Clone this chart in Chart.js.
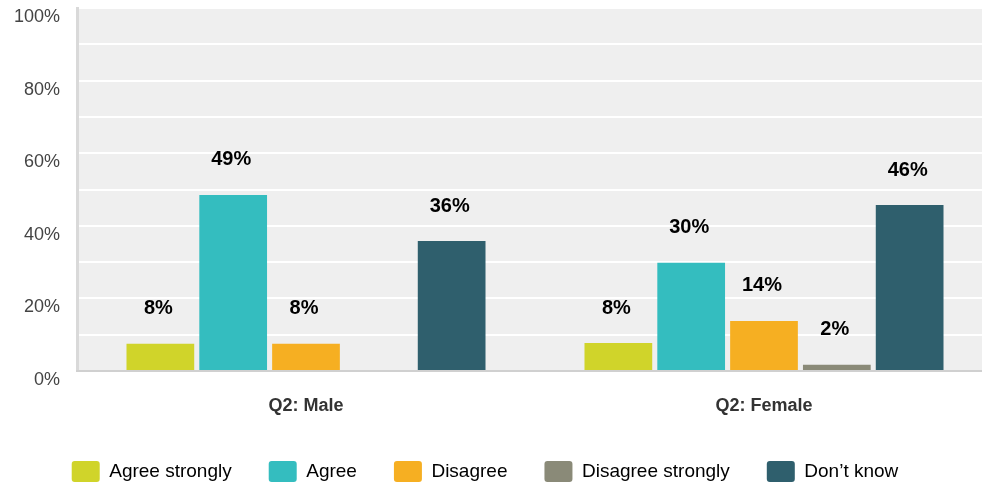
<!DOCTYPE html>
<html>
<head>
<meta charset="utf-8">
<script src="https://cdn.jsdelivr.net/npm/chart.js@4/dist/chart.umd.min.js"></script>
<style>
  html, body { margin: 0; padding: 0; background: #fff; overflow: hidden; }
  #wrap { width: 982px; height: 484px; overflow: hidden; }
  #chart { display: block; }
</style>
</head>
<body>
<div id="wrap"><canvas id="chart" width="994" height="484"></canvas></div>
<script>
// ====== Data ======
const categories = ['Q2: Male', 'Q2: Female'];
const seriesNames = ['Agree strongly', 'Agree', 'Disagree', 'Disagree strongly', 'Don\u2019t know'];
const agreeStrongly = [7.5, 7.7];
const agree = [48.5, 29.8];
const disagree = [7.5, 13.8];
const disagreeStrongly = [null, 1.7];
const dontKnow = [35.8, 45.7];
const yTicks = [0, 20, 40, 60, 80, 100];

// ===== Colors =====
const seriesColors = ['#D0D42A', '#34BDBF', '#F6AF22', '#8A8A78', '#2F5F6D'];
const FONT = '"Liberation Sans", Arial, Helvetica, sans-serif';

// gray plot background
const plotBg = {
    id: 'plotBg',
    beforeDraw(chart) {
        const { ctx, chartArea: a } = chart;
        ctx.save();
        ctx.fillStyle = '#EFEFEF';
        ctx.fillRect(a.left, a.top - 1, a.right - a.left, a.bottom - a.top + 1);
        ctx.restore();
    }
};

// value labels above the bars
const valueLabels = {
    id: 'valueLabels',
    afterDatasetsDraw(chart) {
        const ctx = chart.ctx;
        ctx.save();
        ctx.font = 'bold 20px ' + FONT;
        ctx.fillStyle = '#000';
        ctx.textAlign = 'center';
        ctx.textBaseline = 'middle';
        chart.data.datasets.forEach((ds, i) => {
            chart.getDatasetMeta(i).data.forEach((bar, j) => {
                const v = ds.data[j];
                if (v === null || v === undefined) return;
                ctx.fillText(Math.round(v) + '%', bar.x - 2, bar.y - 35);
            });
        });
        ctx.restore();
    }
};

const values = [agreeStrongly, agree, disagree, disagreeStrongly, dontKnow];

const noPad = (s) => { s.paddingTop = 0; s.paddingBottom = 0; s.paddingLeft = 0; s.paddingRight = 0; };

new Chart(document.getElementById('chart').getContext('2d'), {
    type: 'bar',
    data: {
        labels: categories,
        datasets: seriesNames.map((name, i) => ({
            label: name,
            data: values[i],
            backgroundColor: seriesColors[i],
            borderWidth: 0,
            categoryPercentage: 0.795,
            barPercentage: 0.93
        }))
    },
    options: {
        responsive: false,
        animation: false,
        layout: { padding: { left: -23, right: 1, top: 8, bottom: -8 } },
        scales: {
            y: {
                min: 0,
                max: 100,
                afterFit: (s) => { s.width = 100; noPad(s); },
                afterBuildTicks: (s) => {
                    const t = [];
                    for (let v = 0; v <= 100; v += 10) t.push({ value: v });
                    s.ticks = t;
                },
                ticks: {
                    callback: (v) => yTicks.includes(v) ? v + '%' : '',
                    color: '#444',
                    font: { family: FONT, size: 18 },
                    padding: 17,
                    labelOffset: 9
                },
                grid: { color: '#FFFFFF', lineWidth: 2, drawTicks: false },
                border: { display: true, color: '#D9D9D9', width: 3 }
            },
            x: {
                afterFit: (s) => { s.height = 53; noPad(s); },
                ticks: {
                    color: '#333',
                    font: { family: FONT, size: 18, weight: 'bold' },
                    padding: 24
                },
                grid: { display: false, drawTicks: false },
                border: { display: true, color: '#D0D0D0', width: 2 }
            }
        },
        plugins: {
            legend: {
                position: 'bottom',
                labels: {
                    boxWidth: 28,
                    boxHeight: 21,
                    useBorderRadius: true,
                    borderRadius: 3,
                    padding: 37,
                    color: '#000',
                    font: { family: FONT, size: 19 }
                }
            },
            tooltip: { enabled: false }
        }
    },
    plugins: [plotBg, valueLabels]
});
</script>
</body>
</html>
